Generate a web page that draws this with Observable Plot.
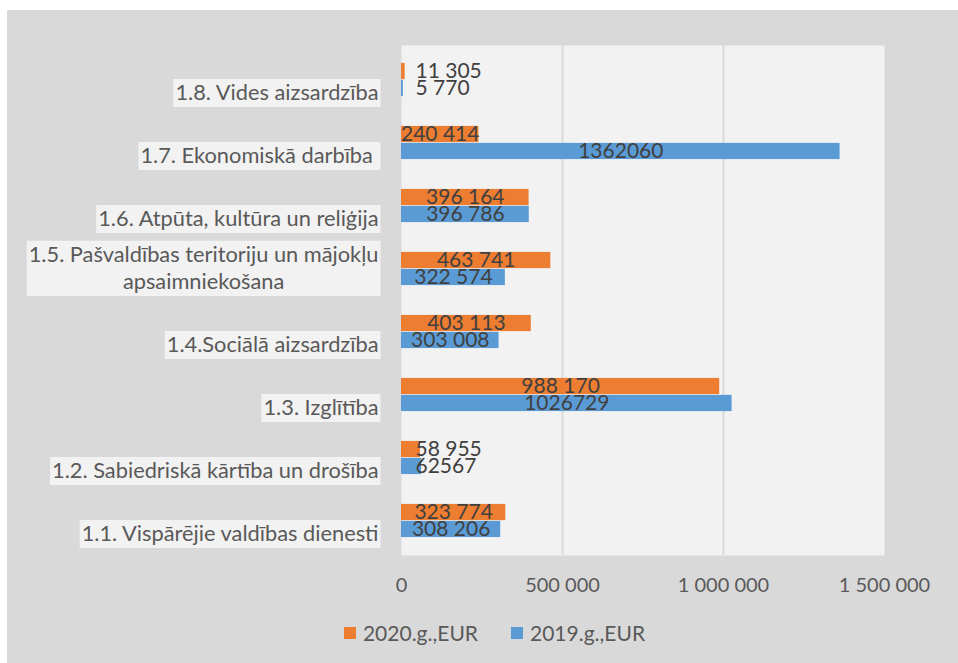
<!DOCTYPE html>
<html><head><meta charset="utf-8">
<script src="https://cdn.jsdelivr.net/npm/d3@7"></script>
<script src="https://cdn.jsdelivr.net/npm/@observablehq/plot@0.6"></script>
<style>
body{margin:0;background:#fff;font-family:Lato,sans-serif;}
#wrap{position:absolute;left:7px;top:10px;width:951px;height:653px;background:#d9d9d9;overflow:hidden;}
#chart{position:absolute;left:0;top:0;}
#legend{position:absolute;left:0;top:606px;width:951px;}
#legend .lg-swatches{justify-content:center;font-size:21px;color:#595959;font-family:Lato,sans-serif;margin:0;min-height:33px;padding-left:24px;}
#legend .lg-swatch{margin-right:33px;}
#legend .lg-swatch:last-child{margin-right:0;}
#legend .lg-swatch svg{margin-right:7px;}
</style></head><body>
<div id="wrap"><div id="chart"></div><div id="legend"></div></div>
<script>
const categories = [
  "1.8. Vides aizsardzība",
  "1.7. Ekonomiskā darbība ",
  "1.6. Atpūta, kultūra un reliģija",
  "1.5. Pašvaldības teritoriju un mājokļu\napsaimniekošana",
  "1.4.Sociālā aizsardzība",
  "1.3. Izglītība",
  "1.2. Sabiedriskā kārtība un drošība",
  "1.1. Vispārējie valdības dienesti"
];
const series = ["2020.g.,EUR", "2019.g.,EUR"];
const values2020 = [11305, 240414, 396164, 463741, 403113, 988170, 58955, 323774];
const values2019 = [5770, 1362060, 396786, 322574, 303008, 1026729, 62567, 308206];
const labels2020 = ["11 305", "240 414", "396 164", "463 741", "403 113", "988 170", "58 955", "323 774"];
const labels2019 = ["5 770", "1362060", "396 786", "322 574", "303 008", "1026729", "62567", "308 206"];
const seriesColors = ["#ED7D31", "#5B9BD5"];
const xTicks = [0, 500000, 1000000, 1500000];
const xTickLabels = ["0", "500 000", "1 000 000", "1 500 000"];

const rows2020 = categories.map((c, i) => ({category: c, series: series[0], value: values2020[i], label: labels2020[i]}));
const rows2019 = categories.map((c, i) => ({category: c, series: series[1], value: values2019[i], label: labels2019[i]}));

const W = 951, H = 600, mT = 35, mB = 55;
const step = (H - mT - mB) / categories.length;   // band height
const barH = step * 0.266;                          // each bar's thickness
const half = step / 2;

const big = rows => rows.filter(d => d.value >= 100000);
const small = rows => rows.filter(d => d.value < 100000);
const labelStyle = {fill: "#404040", fontSize: 21};

const plot = Plot.plot({
  width: W,
  height: H,
  marginLeft: 394,
  marginRight: 74,
  marginTop: mT,
  marginBottom: mB,
  style: {background: "transparent", fontFamily: "Lato, sans-serif", overflow: "visible"},
  x: {domain: [0, 1500000], label: null},
  y: {domain: categories, padding: 0, label: null},
  color: {domain: series, range: seriesColors},
  marks: [
    Plot.frame({fill: "#f2f2f2", stroke: "none"}),
    Plot.ruleX([500000, 1000000], {stroke: "#d9d9d9", strokeWidth: 2}),
    Plot.barX(rows2020, {y: "category", x: "value", fill: "series", insetTop: half - barH, insetBottom: half}),
    Plot.barX(rows2019, {y: "category", x: "value", fill: "series", insetTop: half, insetBottom: half - barH}),
    Plot.text(big(rows2020), {y: "category", x: d => d.value / 2, text: "label", textAnchor: "middle", dy: -barH / 2, ...labelStyle}),
    Plot.text(big(rows2019), {y: "category", x: d => d.value / 2, text: "label", textAnchor: "middle", dy: barH / 2, ...labelStyle}),
    Plot.text(small(rows2020), {y: "category", x: 0, text: "label", textAnchor: "start", dx: 14, dy: -barH / 2, ...labelStyle}),
    Plot.text(small(rows2019), {y: "category", x: 0, text: "label", textAnchor: "start", dx: 14, dy: barH / 2, ...labelStyle}),
    Plot.axisX({ticks: xTicks, tickFormat: d => xTickLabels[xTicks.indexOf(d)], tickSize: 0,
      tickPadding: 22, fontSize: 20, fill: "#595959", label: null}),
    Plot.axisY({anchor: "left", tickSize: 0, tickPadding: 23, fontSize: 21.8, fill: "#595959",
      lineAnchor: "bottom", dy: 20, lineHeight: 1.25, label: null})
  ]
});
document.getElementById("chart").appendChild(plot);

// light boxes behind category labels; center multi-line labels
const yTexts = plot.querySelectorAll('g[aria-label="y-axis tick label"] text');
yTexts.forEach(t => {
  const tspans = t.querySelectorAll("tspan");
  if (tspans.length > 1) {
    const b0 = t.getBBox();
    const cx = b0.x + b0.width / 2;
    t.setAttribute("text-anchor", "middle");
    tspans.forEach(s => s.setAttribute("x", cx));
  }
  const b = t.getBBox();
  const r = document.createElementNS("http://www.w3.org/2000/svg", "rect");
  r.setAttribute("x", b.x - 2);
  r.setAttribute("y", b.y + 1);
  r.setAttribute("width", b.width + 4);
  r.setAttribute("height", b.height + 1);
  r.setAttribute("fill", "#f2f2f2");
  r.setAttribute("stroke", "none");
  if (t.getAttribute("transform")) r.setAttribute("transform", t.getAttribute("transform"));
  t.parentNode.insertBefore(r, t);
});

const legend = Plot.legend({color: {domain: series, range: seriesColors}, swatchSize: 12, className: "lg"});
document.getElementById("legend").appendChild(legend);
</script>
</body></html>
